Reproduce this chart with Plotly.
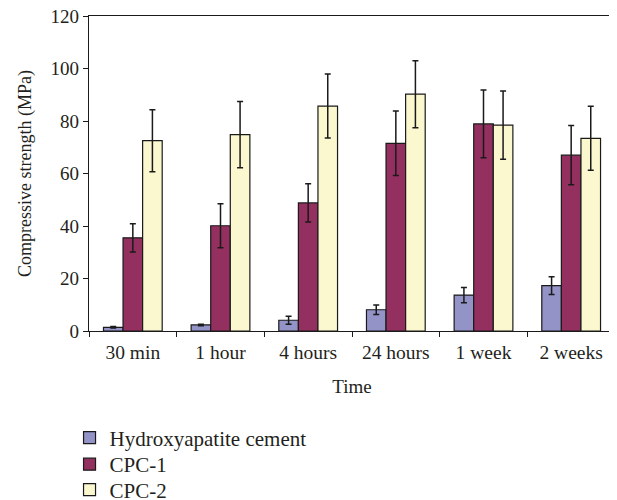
import plotly.graph_objects as go

categories = ["30 min", "1 hour", "4 hours", "24 hours", "1 week", "2 weeks"]
ha_values = [1.4, 2.3, 4.1, 8.1, 13.7, 17.3]
ha_err = [0.3, 0.3, 1.5, 1.8, 2.9, 3.4]
cpc1_values = [35.5, 40.1, 48.8, 71.5, 78.9, 67.0]
cpc1_err = [5.4, 8.4, 7.3, 12.3, 12.9, 11.3]
cpc2_values = [72.5, 74.8, 85.7, 90.2, 78.4, 73.4]
cpc2_err = [11.8, 12.6, 12.2, 12.8, 13.0, 12.2]
y_ticks = [0, 20, 40, 60, 80, 100, 120]

FONT = "Liberation Serif"
TXT = "#231f20"
LINE = "#1a1a1a"

series = [
    ("Hydroxyapatite cement", ha_values, ha_err, "#9393c8", "legend"),
    ("CPC-1", cpc1_values, cpc1_err, "#93305f", "legend2"),
    ("CPC-2", cpc2_values, cpc2_err, "#fbf8cf", "legend3"),
]

fig = go.Figure()
for name, vals, errs, color, lg in series:
    fig.add_trace(go.Bar(
        name=name, x=categories, y=vals, legend=lg,
        marker=dict(color=color, line=dict(color=LINE, width=1.2)),
        error_y=dict(type="data", array=errs, visible=True,
                     color=LINE, thickness=1.5, width=3),
    ))

# the page body adds an 8 px offset; plot area ends up at x 89..615, y 16..331 px
def legend_at(ycenter_px):
    return dict(
        orientation="v", x=-0.037, xanchor="left",
        y=(331 - ycenter_px) / 315.0, yanchor="middle",
        font=dict(family=FONT, size=21, color=TXT),
        bgcolor="rgba(0,0,0,0)", itemwidth=30,
    )

fig.update_layout(
    template="none",
    width=609, height=492,
    barmode="group", bargap=0.33, bargroupgap=0,
    plot_bgcolor="white", paper_bgcolor="white",
    margin=dict(l=81, r=2, t=8, b=169, autoexpand=False),
    font=dict(family=FONT, size=19, color=TXT),
    showlegend=True,
    legend=legend_at(438),
    legend2=legend_at(464.5),
    legend3=legend_at(490),
    xaxis=dict(
        automargin=False, showgrid=False,
        showline=True, linecolor=LINE, linewidth=1.2, mirror=True,
        ticks="outside", tickson="boundaries", ticklen=5, tickcolor=LINE,
        ticklabelstandoff=3,
        title=dict(text="Time", font=dict(family=FONT, size=19, color=TXT), standoff=18),
        tickfont=dict(family=FONT, size=19.5, color=TXT),
    ),
    yaxis=dict(
        automargin=False, ticklabeloverflow="allow",
        range=[0, 120], tickvals=y_ticks, showgrid=False, zeroline=False,
        showline=True, linecolor=LINE, linewidth=1.2, mirror=True,
        ticks="outside", ticklen=5, tickcolor=LINE,
        title=dict(text="Compressive strength (MPa)", font=dict(family=FONT, size=18, color=TXT), standoff=14),
        tickfont=dict(family=FONT, size=19, color=TXT),
    ),
)

fig.write_html("out.html")
